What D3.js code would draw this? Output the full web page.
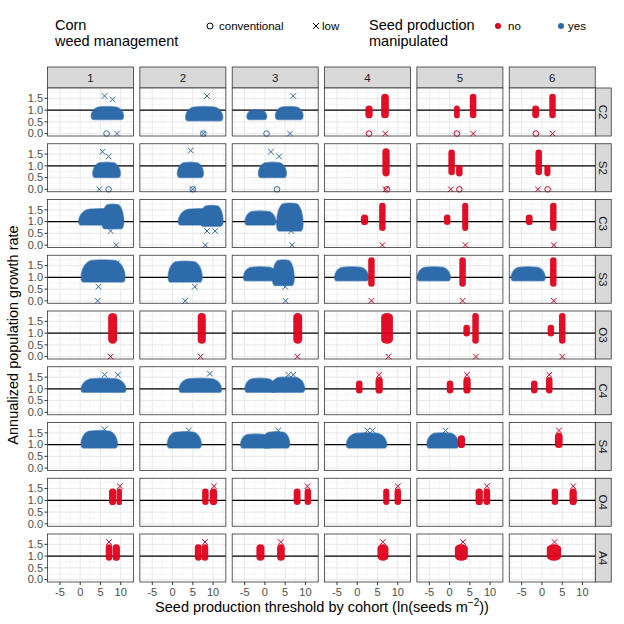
<!DOCTYPE html>
<html><head><meta charset="utf-8">
<script src="https://cdn.jsdelivr.net/npm/d3@7"></script>
<style>body{margin:0;background:#fff}</style>
</head><body>
<script>
const rowLabels = ["C2","S2","C3","S3","O3","C4","S4","O4","A4"];
const colLabels = ["1","2","3","4","5","6"];
const xTicks = [-5, 0, 5, 10];
const yTicks = [0, 0.5, 1, 1.5];
const yTickLabels = ["0.0","0.5","1.0","1.5"];

// point clouds: [row, col, manipulated, x0, x1, yLow, yHigh, shape]
const clusters = [
  ["C2",1,"yes",2.8,10.6,0.6,1.15,"dome"],
  ["C2",2,"yes",3.3,12.3,0.55,1.15,"dome"],
  ["C2",3,"yes",-4.3,0.3,0.6,1.0,"dome"],["C2",3,"yes",2.7,9.3,0.6,1.15,"dome"],
  ["C2",4,"no",2.0,3.8,0.65,1.2,"bar"],["C2",4,"no",5.9,7.8,0.65,1.7,"bar"],
  ["C2",5,"no",1.1,2.5,0.65,1.2,"bar"],["C2",5,"no",5.0,6.6,0.65,1.7,"bar"],
  ["C2",6,"no",-2.4,-0.7,0.65,1.2,"bar"],["C2",6,"no",1.8,3.4,0.65,1.7,"bar"],
  ["S2",1,"yes",3.2,9.8,0.5,1.15,"dome"],
  ["S2",2,"yes",1.3,7.5,0.5,1.15,"dome"],
  ["S2",3,"yes",-1.5,5.2,0.5,1.15,"dome"],
  ["S2",4,"no",6.2,8.0,0.55,1.75,"bar"],
  ["S2",5,"no",-0.3,1.3,0.6,1.7,"bar"],["S2",5,"no",1.6,3.2,0.55,1.05,"bar"],
  ["S2",6,"no",-1.6,0.0,0.6,1.7,"bar"],["S2",6,"no",0.6,2.1,0.55,1.05,"bar"],
  ["C3",1,"yes",-0.3,10.6,0.85,1.55,"dome"],["C3",1,"yes",5.5,10.6,0.7,1.75,"dome"],
  ["C3",2,"yes",1.5,12.3,0.85,1.55,"dome"],["C3",2,"yes",7,12.3,0.8,1.7,"dome"],
  ["C3",3,"yes",-4.8,2.6,0.85,1.45,"dome"],["C3",3,"yes",3.0,9.3,0.6,1.8,"dome"],
  ["C3",4,"no",0.9,2.7,0.85,1.3,"bar"],["C3",4,"no",5.4,7.0,0.6,1.8,"bar"],
  ["C3",5,"no",-1.4,0.2,0.85,1.3,"bar"],["C3",5,"no",3.1,4.6,0.6,1.8,"bar"],
  ["C3",6,"no",-4.0,-2.3,0.85,1.3,"bar"],["C3",6,"no",2.0,3.6,0.6,1.8,"bar"],
  ["S3",1,"yes",0.3,11,0.8,1.75,"dome"],
  ["S3",2,"yes",-1.0,7.2,0.8,1.7,"dome"],
  ["S3",3,"yes",-5.2,3,0.85,1.45,"dome"],["S3",3,"yes",2,7.1,0.65,1.75,"dome"],
  ["S3",4,"yes",-5.5,2.7,0.85,1.45,"dome"],["S3",4,"no",2.7,4.3,0.6,1.85,"bar"],
  ["S3",5,"yes",-7.9,0.1,0.85,1.45,"dome"],["S3",5,"no",2.4,4.0,0.6,1.85,"bar"],
  ["S3",6,"yes",-7.5,0.7,0.85,1.45,"dome"],["S3",6,"no",2.0,3.6,0.6,1.85,"bar"],
  ["O3",1,"no",6.9,9.1,0.55,1.85,"bar"],
  ["O3",2,"no",6.2,8.2,0.55,1.85,"bar"],
  ["O3",3,"no",7.0,9.2,0.55,1.85,"bar"],
  ["O3",4,"no",5.9,8.8,0.55,1.85,"bar"],
  ["O3",5,"no",3.4,5.0,0.85,1.35,"bar"],["O3",5,"no",5.6,7.2,0.55,1.85,"bar"],
  ["O3",6,"no",1.4,3.0,0.85,1.35,"bar"],["O3",6,"no",4.2,5.8,0.55,1.85,"bar"],
  ["C4",1,"yes",0.3,11.2,0.85,1.45,"dome"],
  ["C4",2,"yes",1.7,12,0.85,1.45,"dome"],
  ["C4",3,"yes",-4.8,2.5,0.85,1.45,"dome"],["C4",3,"yes",1.5,9.7,0.85,1.5,"dome"],
  ["C4",4,"no",-0.3,1.3,0.8,1.35,"bar"],["C4",4,"no",4.5,6.3,0.8,1.5,"bar"],
  ["C4",5,"no",-0.7,0.9,0.8,1.35,"bar"],["C4",5,"no",3.4,5.2,0.8,1.5,"bar"],
  ["C4",6,"no",-2.7,-1.1,0.8,1.35,"bar"],["C4",6,"no",1.0,2.6,0.8,1.5,"bar"],
  ["S4",1,"yes",0.3,9.1,0.85,1.6,"dome"],
  ["S4",2,"yes",-1.2,7.0,0.85,1.55,"dome"],
  ["S4",3,"yes",-5.9,1.5,0.85,1.45,"dome"],["S4",3,"yes",-0.5,6,0.85,1.55,"dome"],
  ["S4",4,"yes",-2.6,7.2,0.85,1.5,"dome"],
  ["S4",5,"yes",-5.5,2.1,0.85,1.5,"dome"],["S4",5,"no",2.0,3.8,0.85,1.4,"bar"],
  ["S4",6,"no",3.2,5.1,0.85,1.5,"bar"],
  ["O4",1,"no",7.1,8.9,0.8,1.5,"bar"],["O4",1,"no",9.0,10.3,0.8,1.5,"bar"],
  ["O4",2,"no",7.3,8.9,0.8,1.5,"bar"],["O4",2,"no",9.2,11.0,0.8,1.5,"bar"],
  ["O4",3,"no",7.1,8.8,0.8,1.5,"bar"],["O4",3,"no",9.8,11.4,0.8,1.5,"bar"],
  ["O4",4,"no",6.4,7.9,0.8,1.5,"bar"],["O4",4,"no",9.2,10.8,0.8,1.5,"bar"],
  ["O4",5,"no",6.4,8.2,0.8,1.5,"bar"],["O4",5,"no",8.4,10.0,0.8,1.5,"bar"],
  ["O4",6,"no",2.4,4.0,0.8,1.5,"bar"],["O4",6,"no",6.8,8.6,0.8,1.5,"bar"],
  ["A4",1,"no",6.3,7.9,0.8,1.5,"bar"],["A4",1,"no",8.0,9.8,0.8,1.5,"bar"],
  ["A4",2,"no",5.5,7.2,0.8,1.5,"bar"],["A4",2,"no",7.2,8.8,0.8,1.5,"bar"],
  ["A4",3,"no",-2.1,-0.1,0.8,1.5,"bar"],["A4",3,"no",3.0,4.9,0.8,1.5,"bar"],
  ["A4",4,"no",5.0,7.7,0.8,1.5,"bar"],
  ["A4",5,"no",1.3,4.5,0.8,1.5,"bar"],
  ["A4",6,"no",1.2,4.7,0.8,1.5,"bar"]
];

// isolated points: [row, col, manipulated, management, x, y]
const outliers = [
  ["C2",1,"yes","conventional",6.5,0],["C2",1,"yes","low",9.1,0],["C2",1,"yes","low",6,1.6],["C2",1,"yes","low",8,1.45],
  ["C2",2,"yes","conventional",7.6,0],["C2",2,"yes","low",7.6,0],["C2",2,"yes","low",8.5,1.6],
  ["C2",3,"yes","conventional",0.4,0],["C2",3,"yes","low",6.2,0],["C2",3,"yes","low",7,1.6],
  ["C2",4,"no","conventional",2.9,0],["C2",4,"no","low",6.9,0],
  ["C2",5,"no","conventional",1.8,0],["C2",5,"no","low",5.8,0],
  ["C2",6,"no","conventional",-1.5,0],["C2",6,"no","low",2.6,0],
  ["S2",1,"yes","low",4.7,0],["S2",1,"yes","conventional",7.0,0],["S2",1,"yes","low",5.5,1.6],["S2",1,"yes","low",7,1.4],
  ["S2",2,"yes","low",5.0,0],["S2",2,"yes","conventional",5.0,0],["S2",2,"yes","low",4.5,1.65],
  ["S2",3,"yes","conventional",3.0,0],["S2",3,"yes","low",1.5,1.6],["S2",3,"yes","low",3.5,1.4],
  ["S2",4,"no","low",7.0,0],["S2",4,"no","conventional",7.3,0],
  ["S2",5,"no","low",0.3,0],["S2",5,"no","conventional",2.4,0],
  ["S2",6,"no","low",-1.0,0],["S2",6,"no","conventional",1.4,0],
  ["C3",1,"yes","low",8.9,0],["C3",1,"yes","low",7.5,0.6],
  ["C3",2,"yes","low",8.1,0],["C3",2,"yes","low",8.5,0.6],["C3",2,"yes","low",10.5,0.6],
  ["C3",3,"yes","low",6.7,0],["C3",3,"yes","low",6.5,0.6],
  ["C3",4,"no","low",6.2,0],["C3",5,"no","low",3.9,0],["C3",6,"no","low",2.9,0],
  ["S3",1,"yes","low",4.3,0],["S3",1,"yes","low",4.5,0.6],["S3",1,"yes","low",9,1.6],
  ["S3",2,"yes","low",3.1,0],["S3",2,"yes","low",5.5,0.6],
  ["S3",3,"yes","low",5.1,0],["S3",3,"yes","low",5,0.6],
  ["S3",4,"no","low",3.5,0],["S3",5,"no","low",3.2,0],["S3",6,"no","low",2.9,0],
  ["O3",1,"no","low",7.5,0],["O3",2,"no","low",6.9,0],["O3",3,"no","low",8,0],
  ["O3",4,"no","low",7.7,0],["O3",5,"no","low",6.5,0],["O3",6,"no","low",5,0],
  ["C4",1,"yes","low",6,1.6],["C4",1,"yes","low",9.3,1.6],["C4",2,"yes","low",9.2,1.65],
  ["C4",3,"yes","low",5.8,1.6],["C4",3,"yes","low",7,1.6],
  ["C4",4,"no","low",5.4,1.6],["C4",5,"no","low",4.3,1.6],["C4",6,"no","low",1.8,1.6],
  ["S4",1,"yes","low",6,1.65],["S4",2,"yes","low",4,1.6],["S4",3,"yes","low",3.3,1.6],
  ["S4",4,"yes","low",2.5,1.6],["S4",4,"yes","low",3.8,1.6],["S4",5,"yes","low",-1,1.6],["S4",6,"no","low",4.2,1.6],
  ["O4",1,"no","low",9.8,1.6],["O4",2,"no","low",10.2,1.6],["O4",3,"no","low",10.5,1.6],
  ["O4",4,"no","low",10,1.6],["O4",5,"no","low",9.2,1.6],["O4",6,"no","low",7.7,1.6],
  ["A4",1,"no","low",7.1,1.6],["A4",2,"no","low",8.0,1.6],["A4",3,"no","low",3.9,1.6],
  ["A4",4,"no","low",6.3,1.6],["A4",5,"no","low",3.3,1.6],["A4",6,"no","low",3.1,1.6]
];

const colors = {no: "#E0001B", yes: "#2E6BAA"};
const W = 624, H = 624;
const left0 = 47.5, pw = 86, cstep = 92.35, top0 = 88, ph = 48, rstep = 55.75;

const svg = d3.select("body").append("svg").attr("width", W).attr("height", H)
  .style("font-family", "Liberation Sans, Arial, sans-serif");

const x = d3.scaleLinear().domain([-8.07, 13.15]).range([0, pw]);
const y = d3.scaleLinear().domain([-0.103, 1.94]).range([ph, 0]);

// top strips
colLabels.forEach((c, j) => {
  const sx = left0 + j * cstep;
  svg.append("rect").attr("x", sx).attr("y", 67).attr("width", pw).attr("height", 21)
    .attr("fill", "#D9D9D9").attr("stroke", "#333").attr("stroke-width", 0.8);
  svg.append("text").attr("x", sx + pw / 2).attr("y", 82).attr("text-anchor", "middle")
    .attr("font-size", 11.5).attr("fill", "#1A1A1A").text(c);
});

rowLabels.forEach((r, i) => {
  const py = top0 + i * rstep;
  // right strip
  const rx = left0 + 5 * cstep + pw;
  svg.append("rect").attr("x", rx).attr("y", py).attr("width", 16).attr("height", ph)
    .attr("fill", "#D9D9D9").attr("stroke", "#333").attr("stroke-width", 0.8);
  svg.append("text").attr("transform", `translate(${rx + 4},${py + ph / 2}) rotate(90)`)
    .attr("text-anchor", "middle").attr("font-size", 11.5).attr("fill", "#1A1A1A").text(r);

  colLabels.forEach((c, j) => {
    const g = svg.append("g").attr("transform", `translate(${left0 + j * cstep},${py})`);
    g.append("rect").attr("width", pw).attr("height", ph).attr("fill", "#fff");
    [-7.5, -2.5, 2.5, 7.5, 12.5].forEach(v => g.append("line").attr("x1", x(v)).attr("x2", x(v))
      .attr("y1", 0).attr("y2", ph).attr("stroke", "#F2F2F2").attr("stroke-width", 0.6));
    [0.25, 0.75, 1.25, 1.75].forEach(v => g.append("line").attr("y1", y(v)).attr("y2", y(v))
      .attr("x1", 0).attr("x2", pw).attr("stroke", "#F2F2F2").attr("stroke-width", 0.6));
    xTicks.forEach(v => g.append("line").attr("x1", x(v)).attr("x2", x(v))
      .attr("y1", 0).attr("y2", ph).attr("stroke", "#EBEBEB").attr("stroke-width", 1.1));
    yTicks.forEach(v => g.append("line").attr("y1", y(v)).attr("y2", y(v))
      .attr("x1", 0).attr("x2", pw).attr("stroke", "#EBEBEB").attr("stroke-width", 1.1));

    g.append("line").attr("x1", 0).attr("x2", pw).attr("y1", y(1)).attr("y2", y(1))
      .attr("stroke", "#000").attr("stroke-width", 1.1);

    clusters.filter(d => d[0] === r && d[1] === +c).forEach(d => {
      const col = colors[d[2]];
      const x0 = x(d[3]), x1 = x(d[4]), y0 = y(d[5]), y1 = y(d[6]);
      if (d[7] === "bar") {
        const w = x1 - x0;
        g.append("rect").attr("x", x0).attr("y", y1).attr("width", w).attr("height", y0 - y1)
          .attr("rx", w / 2).attr("ry", Math.min(w / 2, 4)).attr("fill", col).attr("opacity", 0.95);
      } else {
        const w = x1 - x0, xm = (x0 + x1) / 2, hh = y0 - y1;
        const p = d3.path();
        p.moveTo(x0 + 2, y0);
        p.bezierCurveTo(x0 - 2, y0, x0 - 1, y0 - hh * 0.75, xm - w * 0.3, y1 + hh * 0.05);
        p.bezierCurveTo(xm - w * 0.15, y1, xm + w * 0.15, y1, xm + w * 0.3, y1 + hh * 0.05);
        p.bezierCurveTo(x1 + 1, y0 - hh * 0.75, x1 + 2, y0, x1 - 2, y0);
        p.closePath();
        g.append("path").attr("d", p.toString()).attr("fill", col)
          .attr("stroke", col).attr("stroke-opacity", 0.6).attr("stroke-width", 1.5);
      }
    });

    outliers.filter(d => d[0] === r && d[1] === +c).forEach(d => {
      const col = colors[d[2]], px = x(d[4]), py2 = y(d[5]);
      if (d[3] === "conventional") {
        g.append("circle").attr("cx", px).attr("cy", py2).attr("r", 2.8)
          .attr("fill", "none").attr("stroke", col).attr("stroke-width", 1);
      } else {
        g.append("path").attr("d", `M${px - 2.8},${py2 - 2.8}L${px + 2.8},${py2 + 2.8}M${px - 2.8},${py2 + 2.8}L${px + 2.8},${py2 - 2.8}`)
          .attr("stroke", col).attr("stroke-width", 1);
      }
    });

    g.append("rect").attr("width", pw).attr("height", ph).attr("fill", "none")
      .attr("stroke", "#333").attr("stroke-width", 0.8);

    if (j === 0) {
      yTicks.forEach((v, k) => {
        g.append("line").attr("x1", -3).attr("x2", 0).attr("y1", y(v)).attr("y2", y(v)).attr("stroke", "#333");
        g.append("text").attr("x", -4.5).attr("y", y(v) + 3.8).attr("text-anchor", "end")
          .attr("font-size", 11).attr("fill", "#4D4D4D").text(yTickLabels[k]);
      });
    }
    if (i === rowLabels.length - 1) {
      xTicks.forEach(v => {
        g.append("line").attr("x1", x(v)).attr("x2", x(v)).attr("y1", ph).attr("y2", ph + 3).attr("stroke", "#333");
        g.append("text").attr("x", x(v)).attr("y", ph + 14).attr("text-anchor", "middle")
          .attr("font-size", 11).attr("fill", "#4D4D4D").text(v);
      });
    }
  });
});

// axis titles
svg.append("text").attr("transform", "translate(18,335) rotate(-90)").attr("text-anchor", "middle")
  .attr("font-size", 14.5).text("Annualized population growth rate");
const xt = svg.append("text").attr("x", 322).attr("y", 612).attr("text-anchor", "middle").attr("font-size", 14.5);
xt.append("tspan").text("Seed production threshold by cohort (ln(seeds m");
xt.append("tspan").attr("font-size", 10).attr("dy", -6).text("\u22122");
xt.append("tspan").attr("dy", 6).text("))");

// legend
const lg = svg.append("g").attr("font-size", 14.5);
lg.append("text").attr("x", 55).attr("y", 30).text("Corn");
lg.append("text").attr("x", 55).attr("y", 46).text("weed management");
lg.append("circle").attr("cx", 210).attr("cy", 26).attr("r", 3).attr("fill", "none").attr("stroke", "#000");
lg.append("text").attr("x", 219).attr("y", 30).attr("font-size", 11.5).text("conventional");
lg.append("path").attr("d", "M313,23L319,29M313,29L319,23").attr("stroke", "#000");
lg.append("text").attr("x", 322).attr("y", 30).attr("font-size", 11.5).text("low");
lg.append("text").attr("x", 369).attr("y", 30).text("Seed production");
lg.append("text").attr("x", 369).attr("y", 46).text("manipulated");
lg.append("circle").attr("cx", 498).attr("cy", 26).attr("r", 3).attr("fill", colors.no);
lg.append("text").attr("x", 508).attr("y", 30).attr("font-size", 11.5).text("no");
lg.append("circle").attr("cx", 561).attr("cy", 26).attr("r", 3).attr("fill", colors.yes);
lg.append("text").attr("x", 568).attr("y", 30).attr("font-size", 11.5).text("yes");
</script>
</body></html>
